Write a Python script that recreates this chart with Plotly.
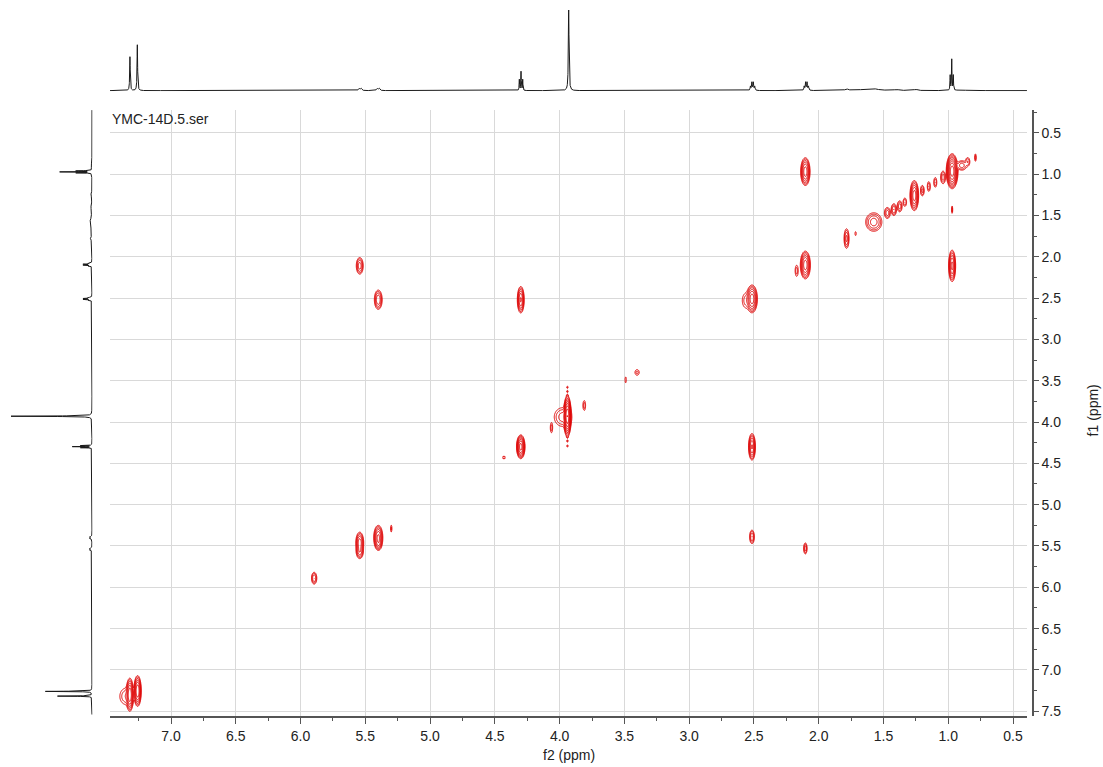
import numpy as np
import plotly.graph_objects as go

W, H = 1103, 767
RED = "#e00000"

# ---------------- 1H reference spectrum (projection traces) ----------------
# individual lines: position (ppm), height (arb.), Lorentzian half width (ppm)
h1_ppm = [7.317, 7.260, 5.548, 5.532, 5.408, 5.392, 4.311, 4.298, 4.285, 3.930,
          2.527, 2.516, 2.505, 2.494, 2.112, 2.101, 2.090, 2.079,
          1.785, 1.700, 1.600, 1.560, 1.400, 1.250, 0.985, 0.973, 0.961, 0.900]
h1_height = [34, 46, 2.2, 2.2, 2.2, 2.2, 11, 19, 11, 81,
             4, 8, 8, 4, 4, 8, 8, 4,
             1.5, 0.5, 0.7, 1.0, 1.0, 1.2, 15, 31, 15, 0.8]
h1_width = [0.0025, 0.0025, 0.006, 0.006, 0.006, 0.006, 0.002, 0.002, 0.002, 0.003,
            0.003, 0.003, 0.003, 0.003, 0.003, 0.003, 0.003, 0.003,
            0.010, 0.080, 0.120, 0.020, 0.020, 0.015, 0.002, 0.002, 0.002, 0.03]

# ---------------- COSY peaks ----------------
# f2 (ppm), f1 (ppm), amplitude, width along f2, width along f1 (ppm)
cosy_f2 = [7.318, 7.258, 7.345, 5.895, 5.543, 5.543, 5.400, 5.398, 5.300,
           4.300, 4.435, 4.425, 3.940, 3.975, 3.940, 3.940, 3.940, 3.940, 3.940, 3.940,
           4.063, 3.810, 3.490, 3.402, 2.515, 2.560, 2.103, 2.170,
           1.785, 1.715, 1.575, 1.470, 1.420, 1.375, 1.335, 1.262, 1.200, 1.150,
           1.100, 1.040, 0.970, 0.895, 0.850, 0.790,
           2.103, 0.970, 0.970, 5.543, 2.103, 5.400, 2.515, 4.300, 2.515]
cosy_f1 = [7.300, 7.255, 7.320, 5.890, 5.460, 5.560, 5.400, 5.470, 5.290,
           4.300, 4.430, 4.430, 3.930, 3.940, 3.580, 3.630, 3.680, 4.180, 4.230, 4.290,
           4.070, 3.800, 3.490, 3.400, 2.510, 2.530, 2.100, 2.170,
           1.780, 1.720, 1.580, 1.470, 1.430, 1.390, 1.340, 1.260, 1.200, 1.150,
           1.100, 1.040, 0.965, 0.895, 0.850, 0.800,
           0.970, 2.110, 1.430, 2.110, 5.530, 2.520, 5.390, 2.520, 4.300]
cosy_amp = [60, 60, 4, 8, 25, 15, 40, 10, 2.5,
            90, 2, 2, 250, 6, 2.2, 2.2, 2.2, 2.2, 2.2, 2.2,
            3, 3, 2, 2.5, 50, 3, 50, 3,
            10, 2, 12, 6, 8, 6, 4, 50, 5, 4,
            4, 6, 200, 6, 4, 3,
            50, 40, 3, 12, 6, 15, 8, 35, 35]
cosy_wf2 = [0.010, 0.010, 0.030, 0.010, 0.012, 0.012, 0.013, 0.010, 0.004,
            0.011, 0.003, 0.003, 0.009, 0.035, 0.004, 0.004, 0.004, 0.004, 0.004, 0.004,
            0.006, 0.007, 0.004, 0.012, 0.015, 0.020, 0.014, 0.008,
            0.009, 0.004, 0.028, 0.012, 0.010, 0.010, 0.008, 0.012, 0.008, 0.007,
            0.007, 0.010, 0.014, 0.020, 0.010, 0.004,
            0.013, 0.010, 0.003, 0.012, 0.007, 0.013, 0.009, 0.010, 0.010]
cosy_wf1 = [0.070, 0.065, 0.060, 0.035, 0.050, 0.040, 0.055, 0.030, 0.030,
            0.048, 0.015, 0.015, 0.075, 0.060, 0.010, 0.010, 0.010, 0.010, 0.010, 0.010,
            0.040, 0.040, 0.030, 0.025, 0.060, 0.060, 0.060, 0.045,
            0.055, 0.020, 0.050, 0.035, 0.035, 0.035, 0.030, 0.065, 0.035, 0.035,
            0.035, 0.040, 0.065, 0.030, 0.030, 0.030,
            0.060, 0.070, 0.030, 0.045, 0.035, 0.050, 0.040, 0.060, 0.060]

# axis ranges (ppm)
F2_RANGE = [7.471, 0.392]
F1_RANGE = [7.560, 0.219]

# ---------------- build 1D trace ----------------
ppm_axis = np.arange(F2_RANGE[0], F2_RANGE[1], -0.0005)
spec = np.zeros_like(ppm_axis)
for p, h, w in zip(h1_ppm, h1_height, h1_width):
    spec += h * w ** 2 / ((ppm_axis - p) ** 2 + w ** 2)

ppm_axis_f1 = np.arange(7.54, 0.225, -0.0005)
spec_f1 = np.zeros_like(ppm_axis_f1)
for p, h, w in zip(h1_ppm, h1_height, h1_width):
    spec_f1 += h * w ** 2 / ((ppm_axis_f1 - p) ** 2 + w ** 2)

# ---------------- 2D contour field, evaluated on local boxes ----------------
peaks = list(zip(cosy_f2, cosy_f1, cosy_amp, cosy_wf2, cosy_wf1))


def field(X, Y):
    Z = np.zeros_like(X)
    for f2, f1, a, sx, sy in peaks:
        Z += a * np.exp(-0.5 * ((X - f2) / sx) ** 2 - 0.5 * ((Y - f1) / sy) ** 2)
    return Z


boxes = []
for f2, f1, a, sx, sy in peaks:
    r = np.sqrt(2 * np.log(max(a, 1.5))) + 0.8
    boxes.append([f2 - r * sx - 0.01, f2 + r * sx + 0.01,
                  f1 - r * sy - 0.01, f1 + r * sy + 0.01])

merged = True
while merged:
    merged = False
    out = []
    while boxes:
        b = boxes.pop()
        i = 0
        while i < len(boxes):
            c = boxes[i]
            if b[0] < c[1] and c[0] < b[1] and b[2] < c[3] and c[2] < b[3]:
                b = [min(b[0], c[0]), max(b[1], c[1]), min(b[2], c[2]), max(b[3], c[3])]
                boxes.pop(i)
                merged = True
            else:
                i += 1
        out.append(b)
    boxes = out

fig = go.Figure()

for x0, x1, y0, y1 in boxes:
    gx = np.arange(x0, x1, 0.0025)
    gy = np.arange(y0, y1, 0.005)
    GX, GY = np.meshgrid(gx, gy)
    Z = field(GX, GY)
    fig.add_trace(go.Contour(
        x=gx, y=gy, z=np.log10(np.maximum(Z, 1e-3)),
        autocontour=False,
        contours=dict(start=0, end=2.7, size=0.3, coloring="lines"),
        colorscale=[[0, RED], [1, RED]], showscale=False,
        line=dict(width=1), hoverinfo="skip",
        xaxis="x", yaxis="y"))

# projections
fig.add_trace(go.Scatter(x=ppm_axis, y=spec, mode="lines",
                         line=dict(color="#1a1a1a", width=1),
                         xaxis="x2", yaxis="y2", hoverinfo="skip"))
fig.add_trace(go.Scatter(x=spec_f1, y=ppm_axis_f1, mode="lines",
                         line=dict(color="#1a1a1a", width=1),
                         xaxis="x3", yaxis="y3", hoverinfo="skip"))

AX = "#555555"
GRID = "#d9d9d9"
TICKFONT = dict(family="Arial, Liberation Sans, sans-serif", size=14, color="#222222")

x_dom = [110 / W, 1027 / W]
y_dom = [(H - 719) / H, (H - 110) / H]

fig.update_layout(
    width=W, height=H,
    margin=dict(l=0, r=0, t=0, b=0),
    paper_bgcolor="white", plot_bgcolor="white",
    showlegend=False,
    xaxis=dict(domain=x_dom, range=F2_RANGE, anchor="y",
               showline=True, linecolor=AX, linewidth=1.5,
               ticks="outside", ticklen=6, tickcolor=AX, tickwidth=1,
               tick0=0, dtick=0.5, tickformat=".1f", tickfont=TICKFONT,
               showgrid=True, gridcolor=GRID, gridwidth=1, zeroline=False,
               minor=dict(dtick=0.25, tick0=0, ticks="outside", ticklen=3,
                          tickcolor=AX, showgrid=False)),
    yaxis=dict(domain=y_dom, range=F1_RANGE, anchor="free", position=1033 / W,
               side="right",
               showline=True, linecolor=AX, linewidth=1.5,
               ticks="outside", ticklen=5, tickcolor=AX, tickwidth=1,
               tick0=0, dtick=0.5, tickformat=".1f", tickfont=TICKFONT,
               showgrid=True, gridcolor=GRID, gridwidth=1, zeroline=False,
               minor=dict(dtick=0.25, tick0=0, ticks="outside", ticklen=3,
                          tickcolor=AX, showgrid=False)),
    xaxis2=dict(domain=x_dom, range=F2_RANGE, anchor="y2", visible=False),
    yaxis2=dict(domain=[(H - 91.5) / H, (H - 10) / H], range=[-0.5, 81], visible=False),
    xaxis3=dict(domain=[11 / W, 92.5 / W], range=[80, -0.5], anchor="y3", visible=False),
    yaxis3=dict(domain=y_dom, range=F1_RANGE, anchor="x3", visible=False),
    annotations=[
        dict(text="YMC-14D.5.ser", x=110 / W, y=(H - 109) / H, xref="paper", yref="paper",
             xanchor="left", yanchor="top", showarrow=False,
             font=dict(family="Arial, Liberation Sans, sans-serif", size=14, color="#222222")),
        dict(text="f2 (ppm)", x=569 / W, y=(H - 758) / H, xref="paper", yref="paper",
             xanchor="center", yanchor="middle", showarrow=False,
             font=dict(family="Arial, Liberation Sans, sans-serif", size=14, color="#222222")),
        dict(text="f1 (ppm)", x=1093 / W, y=(H - 412) / H, xref="paper", yref="paper",
             xanchor="center", yanchor="middle", showarrow=False, textangle=-90,
             font=dict(family="Arial, Liberation Sans, sans-serif", size=14, color="#222222")),
    ],
)

fig.write_html("out.html")
